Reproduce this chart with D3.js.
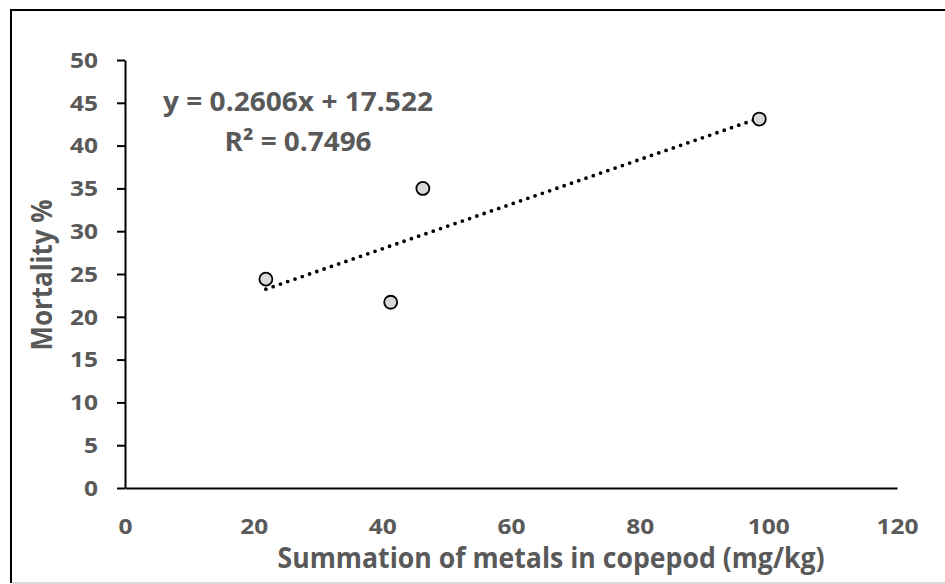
<!DOCTYPE html>
<html>
<head>
<meta charset="utf-8">
<script src="https://cdn.jsdelivr.net/npm/d3@7"></script>
<style>
  body { margin: 0; background: #fff; }
  text { font-family: "Open Sans", "DejaVu Sans", sans-serif; font-weight: bold; fill: #595959; }
</style>
</head>
<body>
<script>
// data
let metals = [21.9, 41.3, 46.3, 98.6];
let mortality = [24.4, 21.7, 35.0, 43.1];
let xTicks = [0, 20, 40, 60, 80, 100, 120];
let yTicks = [0, 5, 10, 15, 20, 25, 30, 35, 40, 45, 50];
let trendCoef = [0.2606, 17.522]; // slope, intercept
let eqLines = ['y = 0.2606x + 17.522', 'R\u00b2 = 0.7496'];

let width = 945, height = 584;
let margin = { top: 60, right: 48, bottom: 96, left: 125 };

let svg = d3.select('body').append('svg')
  .attr('width', width)
  .attr('height', height);

// outer frame
svg.append('line').attr('x1', 11).attr('x2', 11).attr('y1', 9).attr('y2', 583)
  .attr('stroke', '#000').attr('stroke-width', 2);
svg.append('line').attr('x1', 10).attr('x2', 945).attr('y1', 10).attr('y2', 10)
  .attr('stroke', '#000').attr('stroke-width', 2);
svg.append('line').attr('x1', 12).attr('x2', 945).attr('y1', 583).attr('y2', 583)
  .attr('stroke', '#d9d9d9').attr('stroke-width', 2);

let x = d3.scaleLinear().domain([0, 120]).range([margin.left, width - margin.right]);
let y = d3.scaleLinear().domain([0, 50]).range([height - margin.bottom, margin.top]);

// y axis
let gy = svg.append('g')
  .attr('transform', `translate(${margin.left},0)`)
  .call(d3.axisLeft(y).tickValues(yTicks).tickSize(8).tickPadding(19).tickSizeOuter(0));
gy.select('.domain').attr('stroke', '#000').attr('stroke-width', 2);
gy.selectAll('.tick line').attr('stroke', '#000').attr('stroke-width', 2);
gy.selectAll('.tick text')
  .style('font-size', '20.5px')
  .attr('dy', '0.36em')
  .attr('textLength', d => String(d).length * 14)
  .attr('lengthAdjust', 'spacingAndGlyphs');

// x axis
let gx = svg.append('g')
  .attr('transform', `translate(0,${height - margin.bottom})`)
  .call(d3.axisBottom(x).tickValues(xTicks).tickSize(0).tickPadding(31).tickSizeOuter(0));
gx.select('.domain').attr('stroke', '#000').attr('stroke-width', 2);
gx.selectAll('.tick text')
  .style('font-size', '20.5px')
  .attr('textLength', d => String(d).length * 14)
  .attr('lengthAdjust', 'spacingAndGlyphs');

// trendline over the data range
let xr = d3.extent(metals);
svg.append('path')
  .datum(xr)
  .attr('d', d => d3.line()(d.map(v => [x(v), y(trendCoef[0] * v + trendCoef[1])])))
  .attr('fill', 'none')
  .attr('stroke', '#000')
  .attr('stroke-width', 3.8)
  .attr('stroke-linecap', 'round')
  .attr('stroke-dasharray', '0 7.7');

// points
svg.append('g').selectAll('circle')
  .data(metals)
  .enter()
  .append('circle')
  .attr('cx', d => x(d))
  .attr('cy', (d, i) => y(mortality[i]))
  .attr('r', 6.5)
  .attr('fill', '#d9d9d9')
  .attr('stroke', '#000')
  .attr('stroke-width', 1.8);

// equation label
svg.append('text').text(eqLines[0])
  .attr('x', 298).attr('y', 111)
  .attr('text-anchor', 'middle')
  .style('font-size', '27.5px')
  .attr('textLength', 270).attr('lengthAdjust', 'spacingAndGlyphs');
svg.append('text').text(eqLines[1])
  .attr('x', 298).attr('y', 151)
  .attr('text-anchor', 'middle')
  .style('font-size', '27.5px')
  .attr('textLength', 147).attr('lengthAdjust', 'spacingAndGlyphs');

// axis titles
svg.append('text').text('Summation of metals in copepod (mg/kg)')
  .attr('x', 551).attr('y', 568)
  .attr('text-anchor', 'middle')
  .style('font-size', '28px')
  .attr('textLength', 547).attr('lengthAdjust', 'spacingAndGlyphs');

svg.append('text').text('Mortality %')
  .attr('transform', 'translate(52,275) rotate(-90)')
  .attr('text-anchor', 'middle')
  .style('font-size', '28px')
  .attr('textLength', 151).attr('lengthAdjust', 'spacingAndGlyphs');
</script>
</body>
</html>
